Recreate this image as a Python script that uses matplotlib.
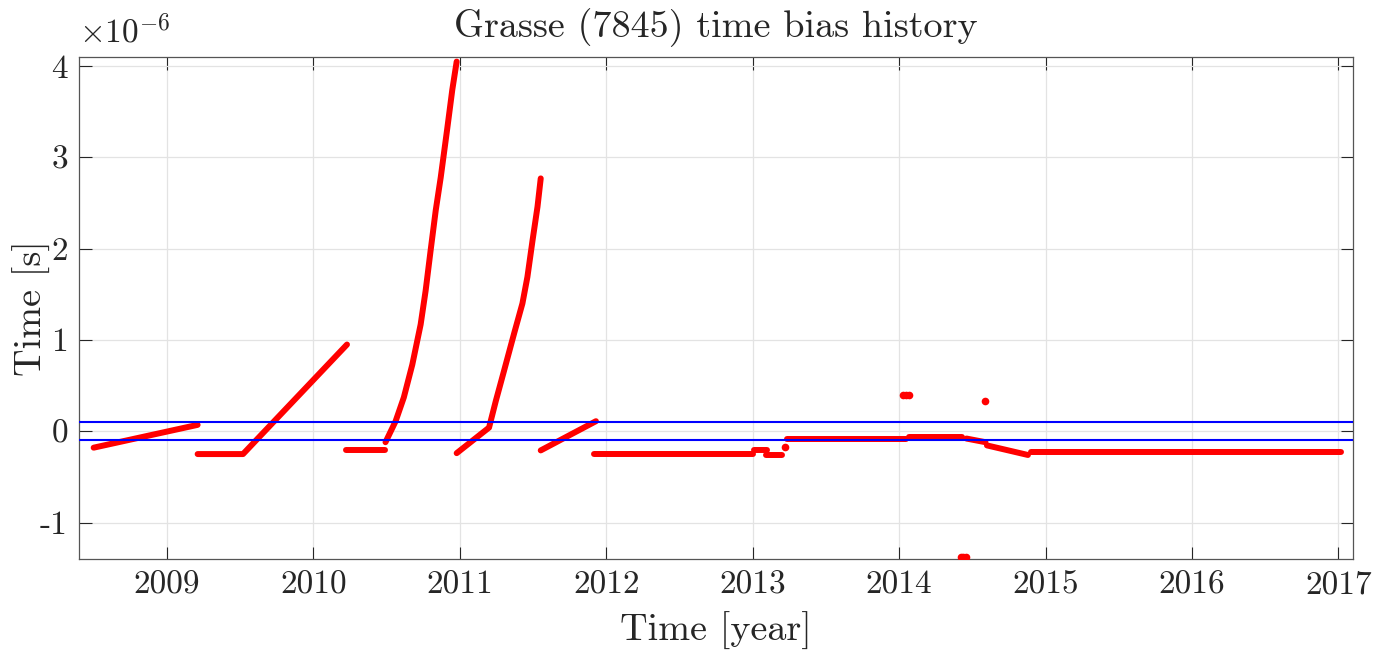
import matplotlib
matplotlib.use('Agg')
import matplotlib.pyplot as plt
import numpy as np

plt.rcParams['font.family'] = 'serif'
plt.rcParams['font.serif'] = ['cmr10']
plt.rcParams['mathtext.fontset'] = 'cm'
plt.rcParams['axes.unicode_minus'] = False

# time bias pieces, years vs microseconds
t_a = [2008.50, 2009.21]
v_a = [-0.18, 0.07]
t_b = [2009.21, 2009.52, 2010.23]
v_b = [-0.25, -0.25, 0.95]
t_c = [2010.22, 2010.49]
v_c = [-0.20, -0.20]
t_d = [2010.493, 2010.562, 2010.618, 2010.676, 2010.733, 2010.767,
       2010.801, 2010.836, 2010.870, 2010.915, 2010.949, 2010.979]
v_d = [-0.12, 0.11, 0.37, 0.73, 1.17, 1.54, 1.98, 2.42, 2.78, 3.32, 3.74, 4.05]
t_e = [2010.979, 2011.200, 2011.246, 2011.302, 2011.371, 2011.428,
       2011.462, 2011.497, 2011.531, 2011.553]
v_e = [-0.24, 0.04, 0.33, 0.66, 1.07, 1.40, 1.69, 2.09, 2.46, 2.77]
t_f = [2011.553, 2011.93]
v_f = [-0.21, 0.11]
t_g = [2011.92, 2013.00]
v_g = [-0.25, -0.25]
t_h = [2013.01, 2013.10]
v_h = [-0.20, -0.20]
t_i = [2013.09, 2013.20]
v_i = [-0.26, -0.26]
t_j = [2013.235, 2014.05]
v_j = [-0.08, -0.08]
t_k = [2014.07, 2014.43]
v_k = [-0.065, -0.065]
t_l = [2014.46, 2014.59]
v_l = [-0.08, -0.12]
t_m = [2014.60, 2014.88]
v_m = [-0.155, -0.26]
t_n = [2014.90, 2017.015]
v_n = [-0.225, -0.225]
# isolated points
t_pts = [2013.22, 2014.03, 2014.05, 2014.07, 2014.59, 2014.42, 2014.44, 2014.46]
v_pts = [-0.17, 0.40, 0.40, 0.40, 0.33, -1.38, -1.38, -1.38]

bounds = [-0.1, 0.1]
year_ticks = list(range(2009, 2018))
val_ticks = [-1, 0, 1, 2, 3, 4]

fig = plt.figure(figsize=(13.91, 6.53), dpi=100)
ax = fig.add_axes([0.0568, 0.1439, 0.9159, 0.7688])

pieces = [(t_a, v_a), (t_b, v_b), (t_c, v_c), (t_d, v_d), (t_e, v_e),
          (t_f, v_f), (t_g, v_g), (t_h, v_h), (t_i, v_i), (t_j, v_j),
          (t_k, v_k), (t_l, v_l), (t_m, v_m), (t_n, v_n)]
for t, v in pieces:
    ax.plot(t, v, '-', color='red', lw=4.3, solid_capstyle='round',
            solid_joinstyle='round', zorder=3)
ax.plot(t_pts, v_pts, 'o', color='red', ms=5.5, mec='none', zorder=3)

for b in bounds:
    ax.axhline(b, color='blue', lw=1.5, zorder=4)

ax.set_xlim(2008.40, 2017.10)
ax.set_ylim(-1.40, 4.10)
ax.set_xticks(year_ticks)
ax.set_yticks(val_ticks)
ax.set_yticklabels([str(v) for v in val_ticks])
ax.grid(True, color='#e3e3e3', lw=0.9, zorder=0)
ax.set_axisbelow(True)
ax.tick_params(direction='in', top=True, right=True, length=9, width=0.8,
               labelsize=24, colors='#262626', pad=8)
for s in ax.spines.values():
    s.set_color('#555555')
    s.set_linewidth(0.9)

ax.text(0.0, 1.028, r'$\times10^{-6}$', transform=ax.transAxes,
        fontsize=24, va='baseline', ha='left', color='#262626')
ax.set_title('Grasse (7845) time bias history', fontsize=27.5, pad=14,
             color='#262626')
ax.set_xlabel('Time [year]', fontsize=27.5, color='#262626', labelpad=9)
ax.set_ylabel('Time [s]', fontsize=27.5, color='#262626')
ax.yaxis.set_label_coords(-0.022, 0.5)

fig.savefig('out.png', dpi=100)
